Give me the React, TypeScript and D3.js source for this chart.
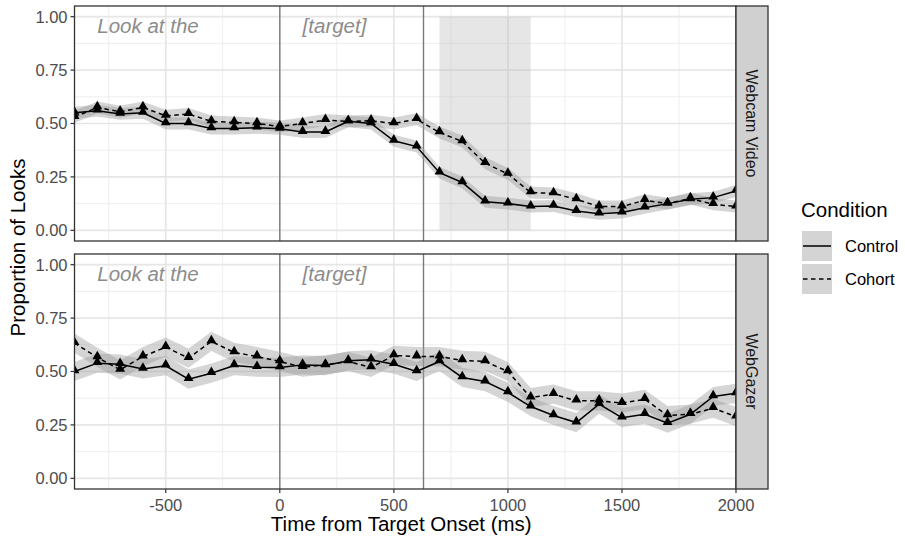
import React from 'react';
import * as d3 from 'd3';

// time bins (ms from target onset)
const times = [-900, -800, -700, -600, -500, -400, -300, -200, -100, 0, 100, 200, 300, 400, 500,
  600, 700, 800, 900, 1000, 1100, 1200, 1300, 1400, 1500, 1600, 1700, 1800, 1900, 2000];

// proportion of looks
const webcamControl = [0.55, 0.56, 0.545, 0.55, 0.50, 0.50, 0.477, 0.477, 0.48, 0.475, 0.46, 0.46, 0.51, 0.50, 0.419,
  0.392, 0.27, 0.224, 0.134, 0.125, 0.111, 0.114, 0.09, 0.078, 0.083, 0.106, 0.125, 0.145, 0.153, 0.184];
const webcamCohort = [0.53, 0.575, 0.555, 0.575, 0.536, 0.544, 0.51, 0.505, 0.50, 0.486, 0.50, 0.516, 0.51, 0.513, 0.50,
  0.52, 0.458, 0.416, 0.314, 0.264, 0.177, 0.173, 0.145, 0.111, 0.111, 0.141, 0.125, 0.149, 0.122, 0.111];
const gazerControl = [0.50, 0.539, 0.534, 0.512, 0.527, 0.464, 0.492, 0.528, 0.52, 0.519, 0.531, 0.528, 0.55, 0.555, 0.534,
  0.50, 0.547, 0.472, 0.453, 0.402, 0.336, 0.294, 0.261, 0.347, 0.284, 0.30, 0.258, 0.30, 0.383, 0.398];
const gazerCohort = [0.633, 0.566, 0.508, 0.57, 0.614, 0.563, 0.641, 0.589, 0.57, 0.547, 0.52, 0.531, 0.547, 0.519, 0.575,
  0.57, 0.57, 0.552, 0.547, 0.50, 0.378, 0.394, 0.363, 0.363, 0.352, 0.37, 0.294, 0.30, 0.328, 0.289];

const xTicks = [-500, 0, 500, 1000, 1500, 2000];
const xMinor = [-750, -250, 250, 750, 1250, 1750];
const yTicks = [0, 0.25, 0.5, 0.75, 1];
const yMinor = [0.125, 0.375, 0.625, 0.875];
const refLines = [0, 630];
const windowWebcam = [700, 1100];
const conditions = ['Control', 'Cohort'];

const panels = [
  { name: 'Webcam Video', control: webcamControl, cohort: webcamCohort, ci: 0.028, top: 6, shade: windowWebcam },
  { name: 'WebGazer', control: gazerControl, cohort: gazerCohort, ci: 0.045, top: 254, shade: null },
];

const FONT = '"Liberation Sans", Arial, Helvetica, sans-serif';
const W = 905, H = 540;
const left = 74.5, right = 736, stripW = 32, panelH = 235;

const x = d3.scaleLinear().domain([-900, 2000]).range([left, right]);

const Panel = ({ p, idx }: { p: typeof panels[number]; idx: number }) => {
  const y = d3.scaleLinear().domain([-0.05, 1.05]).range([p.top + panelH, p.top]);
  const line = d3.line<number>().x((_, i) => x(times[i])).y(v => y(v));
  const band = d3.area<number>().x((_, i) => x(times[i])).y0(v => y(v - p.ci)).y1(v => y(v + p.ci));
  const tri = d3.symbol().type(d3.symbolTriangle).size(42)()!;
  const clipId = `clip${idx}`;
  const series = [
    { vals: p.control, dash: null },
    { vals: p.cohort, dash: '4.5,3.5' },
  ];
  return (
    <g>
      <clipPath id={clipId}>
        <rect x={left} y={p.top} width={right - left} height={panelH} />
      </clipPath>
      <rect x={left} y={p.top} width={right - left} height={panelH} fill="#fff" />
      <g clipPath={`url(#${clipId})`}>
        {xMinor.map(t => <line key={'xm' + t} x1={x(t)} x2={x(t)} y1={p.top} y2={p.top + panelH} stroke="#ececec" strokeWidth={0.9} />)}
        {yMinor.map(t => <line key={'ym' + t} x1={left} x2={right} y1={y(t)} y2={y(t)} stroke="#ececec" strokeWidth={0.9} />)}
        {xTicks.map(t => <line key={'x' + t} x1={x(t)} x2={x(t)} y1={p.top} y2={p.top + panelH} stroke="#e6e6e6" strokeWidth={1.7} />)}
        {yTicks.map(t => <line key={'y' + t} x1={left} x2={right} y1={y(t)} y2={y(t)} stroke="#e6e6e6" strokeWidth={1.7} />)}
        {p.shade && (
          <rect x={x(p.shade[0])} width={x(p.shade[1]) - x(p.shade[0])} y={y(1)} height={y(0) - y(1)} fill="#b8b8b8" opacity={0.35} />
        )}
        {refLines.map(t => <line key={'r' + t} x1={x(t)} x2={x(t)} y1={p.top} y2={p.top + panelH} stroke="#7a7a7a" strokeWidth={1.4} />)}
        <text x={x(-800)} y={y(0.955)} dy="0.35em" fontFamily={FONT} fontStyle="italic" fontSize={20.5} fill="#8c8c8c">Look at the</text>
        <text x={x(100)} y={y(0.955)} dy="0.35em" fontFamily={FONT} fontStyle="italic" fontSize={20.5} fill="#8c8c8c">[target]</text>
        {series.map((s, i) => <path key={'b' + i} d={band(s.vals)!} fill="#9a9a9a" opacity={0.42} />)}
        {series.map((s, i) => (
          <path key={'l' + i} d={line(s.vals)!} fill="none" stroke="#000" strokeWidth={1.5} strokeDasharray={s.dash ?? undefined} />
        ))}
        {series.map((s, i) => s.vals.map((v, j) => (
          <path key={`p${i}-${j}`} d={tri} transform={`translate(${x(times[j])},${y(v) - 1})`} fill="#000" />
        )))}
      </g>
      <rect x={left} y={p.top} width={right - left} height={panelH} fill="none" stroke="#333" strokeWidth={1.3} />
      {/* strip */}
      <rect x={right} y={p.top} width={stripW} height={panelH} fill="#d0d0d0" stroke="#333" strokeWidth={1.3} />
      <text transform={`translate(${right + stripW / 2},${p.top + panelH / 2}) rotate(90)`} textAnchor="middle" dy="0.35em"
        fontFamily={FONT} fontSize={16} fill="#1a1a1a">{p.name}</text>
      {/* y axis */}
      {yTicks.map(t => (
        <g key={'yt' + t}>
          <line x1={left - 4} x2={left} y1={y(t)} y2={y(t)} stroke="#333" strokeWidth={1.2} />
          <text x={left - 7} y={y(t)} dy="0.36em" textAnchor="end" fontFamily={FONT} fontSize={16.5} fill="#4d4d4d">{t.toFixed(2)}</text>
        </g>
      ))}
    </g>
  );
};

export default function App() {
  const bottom = panels[1].top + panelH;
  return (
    <svg width={W} height={H} style={{ display: 'block', position: 'absolute', left: 0, top: 0 }}>
      <rect width={W} height={H} fill="#fff" />
      {panels.map((p, i) => <Panel key={p.name} p={p} idx={i} />)}
      {xTicks.map(t => (
        <g key={'xt' + t}>
          <line x1={x(t)} x2={x(t)} y1={bottom} y2={bottom + 4} stroke="#333" strokeWidth={1.2} />
          <text x={x(t)} y={bottom + 16} dy="0.36em" textAnchor="middle" fontFamily={FONT} fontSize={16.5} fill="#4d4d4d">{t}</text>
        </g>
      ))}
      <text x={(left + right) / 2 - 4} y={524} dy="0.35em" textAnchor="middle" fontFamily={FONT} fontSize={20.5} fill="#000">
        Time from Target Onset (ms)
      </text>
      <text transform={`translate(18,${(panels[0].top + bottom) / 2}) rotate(-90)`} textAnchor="middle" dy="0.35em"
        fontFamily={FONT} fontSize={20.5} fill="#000">Proportion of Looks</text>
      {/* legend */}
      <text x={801} y={217} fontFamily={FONT} fontSize={20.5} fill="#000">Condition</text>
      {conditions.map((c, i) => {
        const ky = 231 + i * 33;
        return (
          <g key={c}>
            <rect x={802} y={ky} width={30} height={30} fill="#d4d4d4" />
            <line x1={803} x2={831} y1={ky + 15} y2={ky + 15} stroke="#000" strokeWidth={1.5}
              strokeDasharray={i === 1 ? '4.5,3.5' : undefined} />
            <text x={845} y={ky + 15} dy="0.36em" fontFamily={FONT} fontSize={16.5} fill="#000">{c}</text>
          </g>
        );
      })}
    </svg>
  );
}
